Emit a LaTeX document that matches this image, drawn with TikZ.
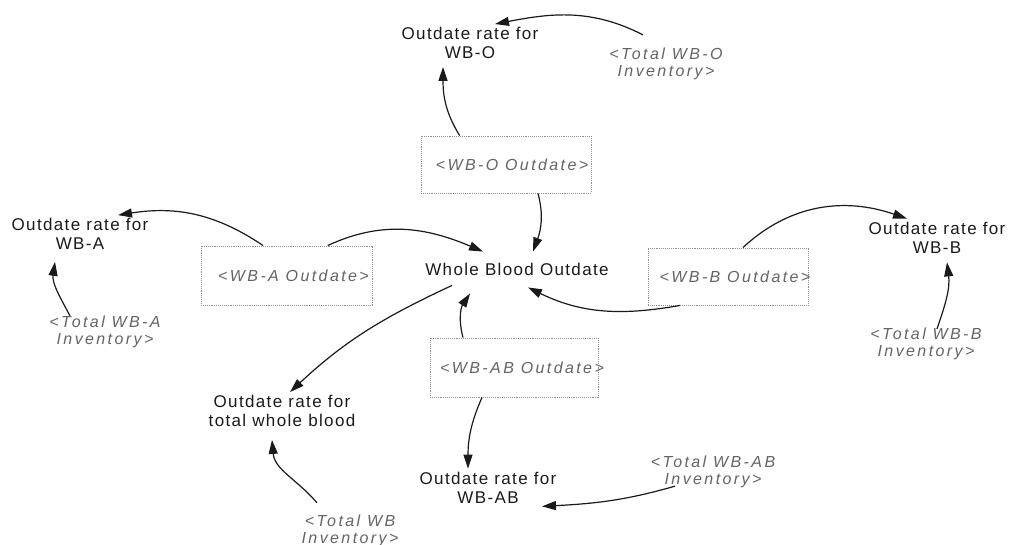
\documentclass[tikz,border=0pt]{standalone}
\usepackage{fontspec}
\setmainfont{Liberation Sans}
\newfontfamily\varfont[LetterSpace=8]{Liberation Sans}
\newfontfamily\ghostfont[LetterSpace=15]{Liberation Sans}
\usetikzlibrary{arrows.meta}

\definecolor{ink}{HTML}{1A1A1A}
\definecolor{ghosttxt}{HTML}{646464}
\definecolor{boxline}{HTML}{909090}

\tikzset{
  flowvar/.style={font=\varfont\fontsize{17}{19}\selectfont, text=ink, align=center, inner sep=3pt},
  ghostvar/.style={font=\ghostfont\itshape\fontsize{16}{17}\selectfont, text=ghosttxt, align=center, inner sep=3pt},
  varbox/.style={draw=boxline, densely dotted, line width=0.9pt, inner sep=0pt},
  link/.style={draw=ink, line width=1.2pt, -{Triangle[length=14pt,width=9pt]}}
}

\begin{document}
\begin{tikzpicture}[x=1pt,y=-1pt]
\useasboundingbox (0,0) rectangle (1014,545);

% central variable
\node[flowvar] (wbo) at (517,269) {Whole Blood Outdate};

% outdate rates
\node[flowvar] (rO)  at (470,43)    {Outdate rate for\\WB-O};
\node[flowvar] (rA)  at (80,234)    {Outdate rate for\\WB-A};
\node[flowvar] (rB)  at (937,237.5) {Outdate rate for\\WB-B};
\node[flowvar] (rAB) at (488,487.5) {Outdate rate for\\WB-AB};
\node[flowvar] (rT)  at (282,411)   {Outdate rate for\\total whole blood};

% shadow inventory variables
\node[ghostvar] (tO)  at (666,64)  {<Total WB-O\\Inventory>};
\node[ghostvar] (tA)  at (105,332) {<Total WB-A\\Inventory>};
\node[ghostvar] (tB)  at (926,344) {<Total WB-B\\Inventory>};
\node[ghostvar] (tAB) at (713,472) {<Total WB-AB\\Inventory>};
\node[ghostvar] (tWB) at (350,531) {<Total WB\\Inventory>};

% outdate boxes
\node[varbox, minimum width=170pt, minimum height=57pt,
      label={[ghostvar,xshift=6pt]center:{<WB-O Outdate>}}] (bO) at (506,164.5) {};
\node[varbox, minimum width=171pt, minimum height=59pt,
      label={[ghostvar,xshift=7pt]center:{<WB-A Outdate>}}] (bA) at (286.5,275.5) {};
\node[varbox, minimum width=160pt, minimum height=57pt,
      label={[ghostvar,xshift=7pt]center:{<WB-B Outdate>}}] (bB) at (728,276.5) {};
\node[varbox, minimum width=168pt, minimum height=59pt,
      label={[ghostvar,xshift=8pt]center:{<WB-AB Outdate>}}] (bAB) at (514,367.5) {};

% WB-O links
\draw[link] (bO.148) to[out=122,in=-90] ([xshift=-27pt,yshift=-5pt]rO.south);
\draw[link] ([xshift=-23pt,yshift=10pt]tO.north) to[out=153,in=11] ([xshift=25pt]rO.north);
\draw[link] ([xshift=32pt]bO.south) to[out=-75,in=70] ([xshift=16pt,yshift=8pt]wbo.north);

% WB-A links
\draw[link] (bA.36) to[out=25,in=157] ([xshift=-34pt,yshift=8pt]wbo.north);
\draw[link] (bA.128) to[out=146,in=9] ([xshift=38pt]rA.north);
\draw[link] ([xshift=-35pt,yshift=-3pt]tA.north) to[out=118,in=-98] ([xshift=-25pt,yshift=-9pt]rA.south);

% WB-B links
\draw[link] ([xshift=-48pt]bB.south) to[out=190,in=-26] ([xshift=11pt,yshift=-9pt]wbo.south);
\draw[link] ([xshift=15pt]bB.north) to[out=43,in=161] ([xshift=-30pt]rB.north);
\draw[link] ([xshift=11pt,yshift=-4pt]tB.north) to[out=71,in=-83] ([xshift=10pt,yshift=-6pt]rB.south);

% WB-AB links
\draw[link] ([xshift=-51pt]bAB.north) to[out=105,in=-123] ([xshift=-47pt,yshift=-15pt]wbo.south);
\draw[link] ([xshift=-32pt]bAB.south) to[out=246,in=90] ([xshift=-20pt]rAB.north);
\draw[link] ([xshift=-38pt,yshift=5pt]tAB.south) to[out=196,in=3] ([xshift=54pt]rAB.south);

% total whole blood links
\draw[link] ([xshift=-65pt,yshift=-7pt]wbo.south) to[out=205,in=43] ([xshift=8pt]rT.north);
\draw[link] ([xshift=-33pt,yshift=9pt]tWB.north) to[out=130,in=-85] ([xshift=-10pt,yshift=-10pt]rT.south);
\end{tikzpicture}
\end{document}
